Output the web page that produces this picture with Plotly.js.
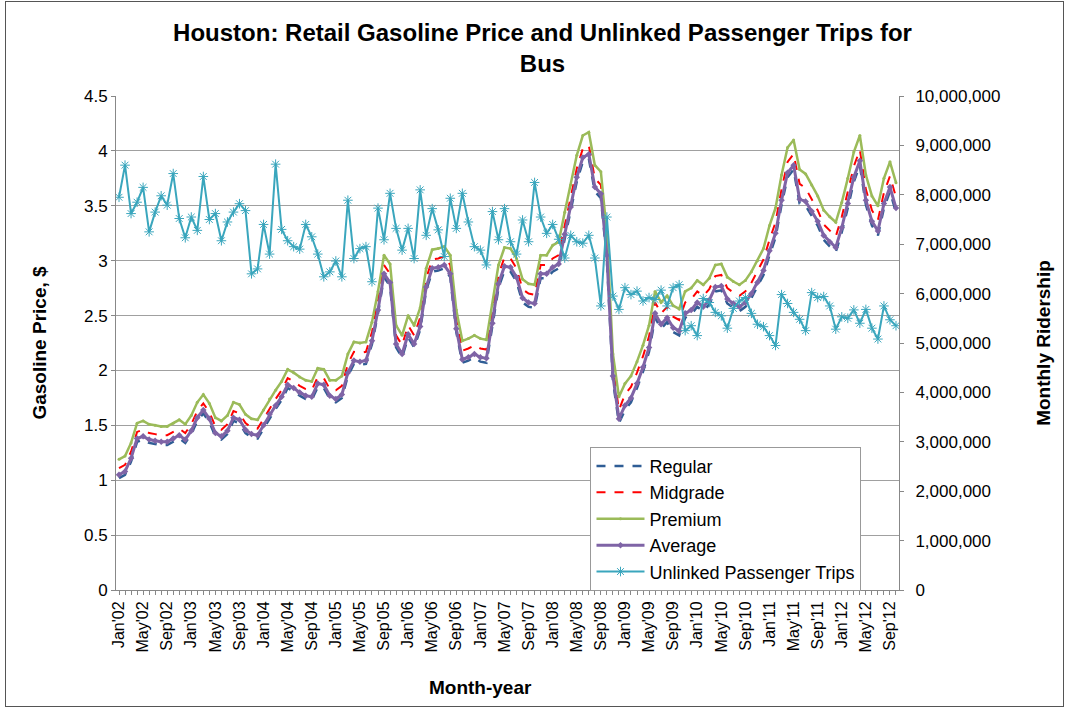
<!DOCTYPE html>
<html>
<head>
<meta charset="utf-8">
<script src="https://cdn.plot.ly/plotly-3.0.1.min.js"></script>
<style>
  body { margin: 0; background: #fff; }
  #frame { position: absolute; left: 5px; top: 1px; width: 1057px; height: 704px; border: 1px solid #555; }
  #chart { position: absolute; left: 0; top: 0; width: 1068px; height: 707px; }
</style>
</head>
<body>
<div id="frame"></div>
<div id="chart"></div>
<script>
// month labels, Jan'02 .. Oct'12
const monthNames = ['Jan', 'Feb', 'Mar', 'Apr', 'May', 'Jun', 'Jul', 'Aug', 'Sep', 'Oct', 'Nov', 'Dec'];
const years = ['02', '03', '04', '05', '06', '07', '08', '09', '10', '11', '12'];
const months = [];
years.forEach(y => monthNames.forEach(m => months.push(m + "'" + y)));
months.length = 130;

// retail gasoline price, $ per gallon
const regular = [
  1.02, 1.05, 1.17, 1.35, 1.37, 1.34, 1.33, 1.32, 1.32, 1.35, 1.38, 1.34,
  1.42, 1.54, 1.61, 1.53, 1.40, 1.37, 1.42, 1.54, 1.52, 1.43, 1.39, 1.38,
  1.47, 1.57, 1.65, 1.73, 1.84, 1.81, 1.77, 1.74, 1.73, 1.85, 1.84, 1.74,
  1.71, 1.75, 1.95, 2.06, 2.05, 2.06, 2.24, 2.52, 2.85, 2.77, 2.21, 2.12,
  2.30, 2.21, 2.37, 2.73, 2.90, 2.91, 2.93, 2.85, 2.35, 2.07, 2.09, 2.12,
  2.08, 2.07, 2.39, 2.75, 2.91, 2.90, 2.81, 2.62, 2.58, 2.57, 2.84, 2.84,
  2.90, 2.93, 3.20, 3.45, 3.72, 3.90, 3.93, 3.63, 3.57, 3.01, 1.91, 1.52,
  1.64, 1.71, 1.84, 1.99, 2.17, 2.48, 2.38, 2.44, 2.35, 2.32, 2.48, 2.51,
  2.58, 2.54, 2.60, 2.72, 2.73, 2.61, 2.57, 2.54, 2.58, 2.66, 2.76, 2.87,
  3.05, 3.21, 3.51, 3.76, 3.83, 3.52, 3.50, 3.41, 3.32, 3.19, 3.13, 3.08,
  3.26, 3.48, 3.72, 3.87, 3.51, 3.32, 3.23, 3.48, 3.63, 3.44
];
const midgrade = [
  1.11, 1.14, 1.26, 1.44, 1.46, 1.43, 1.42, 1.41, 1.41, 1.44, 1.47, 1.43,
  1.51, 1.63, 1.70, 1.62, 1.49, 1.46, 1.51, 1.63, 1.61, 1.52, 1.48, 1.47,
  1.56, 1.66, 1.74, 1.82, 1.93, 1.90, 1.86, 1.83, 1.82, 1.94, 1.93, 1.83,
  1.82, 1.86, 2.06, 2.17, 2.16, 2.17, 2.35, 2.63, 2.96, 2.88, 2.32, 2.23,
  2.41, 2.32, 2.48, 2.84, 3.01, 3.02, 3.04, 2.96, 2.46, 2.18, 2.20, 2.23,
  2.20, 2.19, 2.51, 2.87, 3.03, 3.02, 2.93, 2.74, 2.70, 2.69, 2.96, 2.96,
  3.02, 3.05, 3.32, 3.57, 3.84, 4.02, 4.05, 3.75, 3.69, 3.13, 2.03, 1.64,
  1.78, 1.85, 1.98, 2.13, 2.31, 2.62, 2.52, 2.58, 2.49, 2.46, 2.62, 2.65,
  2.72, 2.68, 2.74, 2.86, 2.87, 2.75, 2.71, 2.68, 2.72, 2.80, 2.90, 3.01,
  3.19, 3.35, 3.65, 3.90, 3.97, 3.70, 3.66, 3.56, 3.46, 3.33, 3.27, 3.22,
  3.40, 3.62, 3.86, 4.01, 3.65, 3.46, 3.37, 3.62, 3.77, 3.58
];
const premium = [
  1.19, 1.22, 1.34, 1.52, 1.54, 1.51, 1.50, 1.49, 1.49, 1.52, 1.55, 1.51,
  1.59, 1.71, 1.78, 1.70, 1.57, 1.54, 1.59, 1.71, 1.69, 1.60, 1.56, 1.55,
  1.64, 1.74, 1.82, 1.90, 2.01, 1.98, 1.94, 1.91, 1.90, 2.02, 2.01, 1.91,
  1.91, 1.95, 2.15, 2.26, 2.25, 2.26, 2.44, 2.72, 3.05, 2.97, 2.41, 2.32,
  2.50, 2.41, 2.57, 2.93, 3.10, 3.11, 3.13, 3.05, 2.55, 2.27, 2.29, 2.32,
  2.29, 2.28, 2.60, 2.96, 3.12, 3.11, 3.02, 2.83, 2.79, 2.78, 3.05, 3.05,
  3.14, 3.17, 3.44, 3.69, 3.96, 4.14, 4.17, 3.87, 3.81, 3.25, 2.15, 1.76,
  1.88, 1.95, 2.08, 2.23, 2.41, 2.72, 2.62, 2.68, 2.59, 2.56, 2.72, 2.75,
  2.82, 2.78, 2.84, 2.96, 2.97, 2.85, 2.81, 2.78, 2.82, 2.90, 3.00, 3.11,
  3.32, 3.48, 3.78, 4.03, 4.10, 3.83, 3.79, 3.69, 3.59, 3.46, 3.40, 3.35,
  3.53, 3.75, 3.99, 4.14, 3.78, 3.59, 3.50, 3.75, 3.90, 3.71
];
const average = [
  1.05, 1.08, 1.20, 1.38, 1.40, 1.37, 1.36, 1.35, 1.35, 1.38, 1.41, 1.37,
  1.45, 1.57, 1.64, 1.56, 1.43, 1.40, 1.45, 1.57, 1.55, 1.46, 1.42, 1.41,
  1.50, 1.60, 1.68, 1.76, 1.87, 1.84, 1.80, 1.77, 1.76, 1.88, 1.87, 1.77,
  1.74, 1.78, 1.98, 2.09, 2.08, 2.09, 2.27, 2.55, 2.88, 2.80, 2.24, 2.15,
  2.33, 2.24, 2.40, 2.76, 2.93, 2.94, 2.96, 2.88, 2.38, 2.10, 2.12, 2.15,
  2.12, 2.11, 2.43, 2.79, 2.95, 2.94, 2.85, 2.66, 2.62, 2.61, 2.88, 2.88,
  2.94, 2.97, 3.24, 3.49, 3.76, 3.94, 3.97, 3.67, 3.61, 3.05, 1.95, 1.56,
  1.68, 1.75, 1.88, 2.03, 2.21, 2.52, 2.42, 2.48, 2.39, 2.36, 2.52, 2.55,
  2.62, 2.58, 2.64, 2.76, 2.77, 2.65, 2.61, 2.58, 2.62, 2.70, 2.80, 2.91,
  3.09, 3.25, 3.55, 3.80, 3.87, 3.56, 3.54, 3.45, 3.36, 3.23, 3.17, 3.12,
  3.30, 3.52, 3.76, 3.91, 3.55, 3.36, 3.27, 3.52, 3.67, 3.48
];

// unlinked passenger trips, bus, per month
const trips = [
  7950000, 8600000, 7620000, 7850000, 8150000, 7250000, 7650000, 7980000, 7790000, 8430000, 7520000, 7130000,
  7550000, 7280000, 8370000, 7500000, 7620000, 7070000, 7450000, 7650000, 7820000, 7680000, 6400000, 6500000,
  7400000, 6800000, 8620000, 7300000, 7070000, 6950000, 6900000, 7400000, 7150000, 6800000, 6340000, 6440000,
  6660000, 6340000, 7890000, 6710000, 6910000, 6950000, 6240000, 7730000, 7090000, 8030000, 7320000, 6880000,
  7320000, 6710000, 8100000, 7180000, 7720000, 7290000, 6750000, 7930000, 7320000, 8030000, 7450000, 6950000,
  6880000, 6580000, 7660000, 7090000, 7720000, 7050000, 6800000, 7490000, 7050000, 8250000, 7550000, 7220000,
  7400000, 7100000, 6720000, 7180000, 7050000, 7020000, 7180000, 6720000, 5750000, 7550000, 5950000, 5680000,
  6120000, 5980000, 6050000, 5850000, 5920000, 5880000, 6070000, 5750000, 6120000, 6180000, 5250000, 5350000,
  5150000, 5900000, 5820000, 5620000, 5550000, 5300000, 5700000, 5850000, 5920000, 5600000, 5380000, 5330000,
  5150000, 4950000, 5980000, 5800000, 5620000, 5480000, 5250000, 6020000, 5920000, 5940000, 5750000, 5280000,
  5530000, 5500000, 5670000, 5400000, 5680000, 5300000, 5080000, 5750000, 5470000, 5350000
];

const tickText = months.map((m, i) => (i % 4 === 0 ? m : ''));
const font = 'Liberation Sans, Arial, sans-serif';

const traces = [
  { x: months, y: regular, name: 'Regular', type: 'scatter', mode: 'lines',
    line: { color: '#2f5d95', width: 2.5, dash: 'dash' } },
  { x: months, y: midgrade, name: 'Midgrade', type: 'scatter', mode: 'lines',
    line: { color: '#ff0000', width: 2, dash: 'dash' } },
  { x: months, y: premium, name: 'Premium', type: 'scatter', mode: 'lines+markers',
    line: { color: '#9bbb59', width: 2.5 }, marker: { symbol: 'circle', size: 3, color: '#9bbb59' } },
  { x: months, y: average, name: 'Average', type: 'scatter', mode: 'lines+markers',
    line: { color: '#7f64a6', width: 3 }, marker: { symbol: 'diamond', size: 5, color: '#7f64a6' } },
  { x: months, y: trips, name: 'Unlinked Passenger Trips', type: 'scatter', mode: 'lines+markers', yaxis: 'y2',
    line: { color: '#3aa6bd', width: 2 },
    marker: { symbol: 'asterisk-open', size: 8, color: '#3aa6bd', line: { color: '#3aa6bd', width: 1 } } }
];

const layout = {
  width: 1068,
  height: 707,
  margin: { l: 116, r: 169, t: 96, b: 117 },
  paper_bgcolor: 'rgba(0,0,0,0)',
  plot_bgcolor: '#fff',
  font: { family: font, color: '#000', size: 17 },
  title: {
    text: '<b>Houston: Retail Gasoline Price and Unlinked Passenger Trips for<br>Bus</b>',
    font: { family: font, size: 24, color: '#000' },
    x: 0.508, xanchor: 'center', y: 0.942, yanchor: 'top'
  },
  xaxis: {
    type: 'category',
    range: [-0.5, 129.5],
    tickvals: months,
    ticktext: tickText,
    tickangle: -90,
    ticks: 'outside', ticklen: 4, tickcolor: '#888',
    tickfont: { family: font, size: 16 },
    showline: true, linecolor: '#888', linewidth: 1,
    showgrid: false
  },
  yaxis: {
    range: [0, 4.5], dtick: 0.5,
    title: { text: '<b>Gasoline Price, $</b>', font: { family: font, size: 19 }, standoff: 32 },
    ticks: 'outside', ticklen: 4, tickcolor: '#888',
    tickfont: { family: font, size: 17 },
    showline: true, linecolor: '#888',
    showgrid: true, gridcolor: '#a0a0a0', gridwidth: 1,
    zeroline: false
  },
  yaxis2: {
    overlaying: 'y', side: 'right',
    range: [0, 10000000], dtick: 1000000, tickformat: ',d',
    title: { text: '<b>Monthly Ridership</b>', font: { family: font, size: 19 }, standoff: 37 },
    ticks: 'outside', ticklen: 4, tickcolor: '#888',
    ticklabelstandoff: 8,
    tickfont: { family: font, size: 17 },
    showline: true, linecolor: '#888',
    showgrid: false, zeroline: false
  },
  legend: {
    x: 0.606, y: 0.29, xanchor: 'left', yanchor: 'top',
    bgcolor: '#fff', bordercolor: '#999', borderwidth: 1,
    itemwidth: 48,
    font: { family: font, size: 18, color: '#000' }
  },
  annotations: [{
    text: '<b>Month-year</b>', xref: 'paper', yref: 'paper',
    x: 0.465, y: -0.198, xanchor: 'center', yanchor: 'middle',
    showarrow: false, font: { family: font, size: 19, color: '#000' }
  }]
};

Plotly.newPlot('chart', traces, layout, { displayModeBar: false });
</script>
</body>
</html>
